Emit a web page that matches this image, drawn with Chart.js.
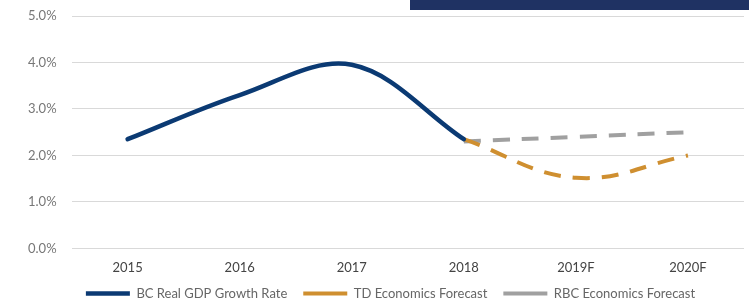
<!DOCTYPE html>
<html>
<head>
<meta charset="utf-8">
<script src="https://cdn.jsdelivr.net/npm/chart.js@4"></script>
<style>
html,body{margin:0;padding:0;background:#fff;}
#wrap{position:relative;width:749px;height:304px;}
#bar{position:absolute;left:410px;top:0;width:339px;height:10px;background:#1f3263;}
</style>
</head>
<body>
<div id="wrap"><canvas id="c" width="749" height="304"></canvas><div id="bar"></div></div>
<script>
const categories = ['2015','2016','2017','2018','2019F','2020F'];
const bcGrowth = [2.35, 3.3, 3.95, 2.35, null, null];
const tdForecast = [null, null, null, 2.35, 1.52, 2.0];
const rbcForecast = [null, null, null, 2.3, 2.4, 2.5];
const yTicks = [0, 1, 2, 3, 4, 5];

const shiftLegend = {
  id: 'shiftLegend',
  afterLayout(chart) {
    const lg = chart.legend;
    if (lg) { lg.left += 12; lg.right += 12; lg.top -= 17; lg.bottom -= 17; }
  }
};

new Chart(document.getElementById('c'), {
  type: 'line',
  data: {
    labels: categories,
    datasets: [
      {label: 'BC Real GDP Growth Rate', data: bcGrowth, borderColor: '#0b3a73', backgroundColor: '#0b3a73', borderWidth: 4.5, tension: 0.35, pointRadius: 0, borderCapStyle: 'round', pointStyle: 'line'},
      {label: 'TD Economics Forecast', data: tdForecast, borderColor: '#cf8f30', backgroundColor: '#cf8f30', borderWidth: 4, borderDash: [17, 12], tension: 0.4, pointRadius: 0, pointStyle: 'line'},
      {label: 'RBC Economics Forecast', data: rbcForecast, borderColor: '#a0a0a0', backgroundColor: '#a0a0a0', borderWidth: 4, borderDash: [17, 12], tension: 0.4, pointRadius: 0, pointStyle: 'line'}
    ]
  },
  plugins: [shiftLegend],
  options: {
    responsive: false,
    animation: false,
    spanGaps: false,
    layout: {padding: {left: 13, right: 5, top: 16, bottom: -23}},
    plugins: {
      tooltip: {enabled: false},
      legend: {
        position: 'bottom',
        labels: {
          usePointStyle: true,
          pointStyle: 'line',
          pointStyleWidth: 44,
          boxHeight: 4,
          padding: 16,
          color: '#666',
          font: {family: 'Lato', size: 13}
        }
      }
    },
    scales: {
      x: {
        offset: true,
        grid: {display: false, drawTicks: false},
        border: {display: false},
        ticks: {color: '#444', font: {family: 'Lato', size: 13}, padding: 12}
      },
      y: {
        min: 0, max: 5,
        afterBuildTicks: (ax) => { ax.ticks = yTicks.map(v => ({value: v})); },
        afterFit: (ax) => { ax.paddingTop = 0; ax.paddingBottom = 0; },
        grid: {color: '#d9d9d9', drawTicks: false, lineWidth: 1},
        border: {display: false},
        ticks: {color: '#777', font: {family: 'Lato', size: 13}, padding: 15, callback: v => v.toFixed(1) + '%'}
      }
    }
  }
});
</script>
</body>
</html>
